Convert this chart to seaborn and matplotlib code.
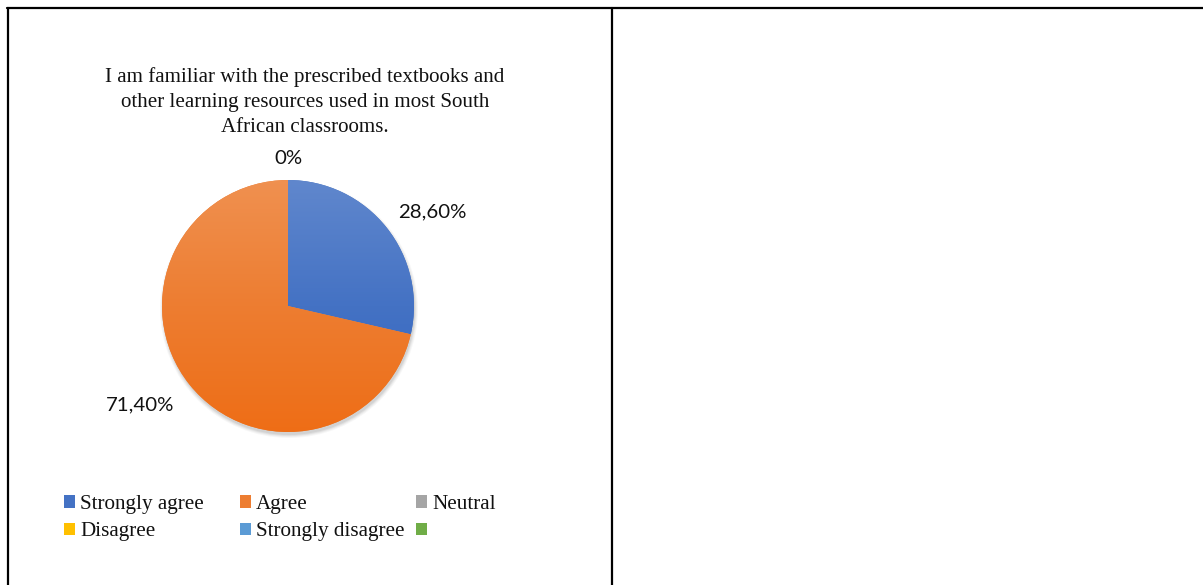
import numpy as np
import matplotlib
matplotlib.use("Agg")
import matplotlib.pyplot as plt
import matplotlib.colors as mcolors
from matplotlib.lines import Line2D
from matplotlib.patches import Patch
import seaborn as sns

# Chart data
categories = ["Strongly agree", "Agree", "Neutral", "Disagree", "Strongly disagree", ""]
percentages = [28.6, 71.4, 0, 0, 0, 0]
value_labels = ["28,60%", "71,40%", "0%", "0%", "0%", ""]
title_text = ("I am familiar with the prescribed textbooks and\n"
              "other learning resources used in most South\n"
              "African classrooms.")

# Office palette
office_colors = ["#4472C4", "#ED7D31", "#A5A5A5", "#FFC000", "#5B9BD5", "#70AD47"]

sns.set_theme(style="white")
plt.rcParams["font.family"] = ["Liberation Serif", "DejaVu Serif"]

W, H = 1203, 585
fig = plt.figure(figsize=(W / 100, H / 100), dpi=100)
ax = fig.add_axes([0, 0, 1, 1])

# pie placement in pixel units (y measured from bottom)
cx, cy, r = 288, H - 306, 126

# soft shadow under the pie
for grow, a in [(3, 0.03), (2, 0.04), (1, 0.05), (0, 0.06)]:
    ax.add_patch(plt.Circle((cx + 1, cy - 3), r + grow, color="black", alpha=a, lw=0, zorder=0))

wedges, _ = ax.pie(percentages, colors=office_colors, startangle=90, counterclock=False,
                   center=(cx, cy), radius=r, wedgeprops=dict(linewidth=0))

# vertical gradient fill like the Excel style: lighter top, deeper bottom
grad = np.linspace(0, 1, 256).reshape(-1, 1)
for w, col in zip(wedges, office_colors):
    if w.theta2 - w.theta1 <= 0:
        continue
    base = np.array(mcolors.to_rgb(col))
    top = base + (1 - base) * 0.15
    bottom = np.clip((base - base.mean()) * 1.15 + base.mean() * 0.9, 0, 1)
    cmap = mcolors.LinearSegmentedColormap.from_list("g", [top, base, bottom])
    im = ax.imshow(grad, cmap=cmap, extent=(cx - r, cx + r, cy - r, cy + r),
                   origin="upper", aspect="auto", zorder=w.get_zorder() + 0.1)
    im.set_clip_path(w)

# data labels (Excel "best fit": distance in radii, small angle nudge in degrees)
label_dist = [1.37, 1.41, 1.17, 1.17, 1.17, 1.17]
label_nudge = [-5.5, -4.7, 0, 0, 0, 0]
seen = set()
for w, lab, d, nudge in zip(wedges, value_labels, label_dist, label_nudge):
    if not lab:
        continue
    ang = np.deg2rad((w.theta1 + w.theta2) / 2 + nudge)
    x, y = cx + d * r * np.cos(ang), cy + d * r * np.sin(ang)
    key = (round(x), round(y))
    if key in seen:
        continue
    seen.add(key)
    ax.text(x, y, lab, ha="center", va="center", fontsize=14.7,
            family=["Lato", "DejaVu Sans"], color="#111111")

ax.set_xlim(0, W)
ax.set_ylim(0, H)
ax.set_aspect("auto")
ax.axis("off")

# title
fig.text(305 / W, 1 - 67 / H, title_text, ha="center", va="top", fontsize=15.1,
         linespacing=1.42, color="#111111")

# legend, one column at a time so the columns sit where Excel put them
handles = [Patch(facecolor=c, edgecolor="none") for c in office_colors]
columns = [[0, 3], [1, 4], [2, 5]]
col_x = [64, 240, 416]
for idx, x0 in zip(columns, col_x):
    fig.legend([handles[i] for i in idx], [categories[i] for i in idx],
               loc="upper left", bbox_to_anchor=(x0 / W, 1 - 495 / H), frameon=False,
               borderpad=0, borderaxespad=0, handlelength=0.52, handleheight=0.52,
               handletextpad=0.24, labelspacing=0.40, fontsize=15.2, labelcolor="#111111")

# table borders
lw = 1.6
fig.add_artist(Line2D([7 / W, 1], [1 - 7.5 / H] * 2, color="black", lw=lw))
fig.add_artist(Line2D([7.5 / W] * 2, [0, 1 - 7.5 / H], color="black", lw=lw))
fig.add_artist(Line2D([611.5 / W] * 2, [0, 1 - 7.5 / H], color="black", lw=lw))

fig.savefig("out.png", dpi=100, facecolor="white")
